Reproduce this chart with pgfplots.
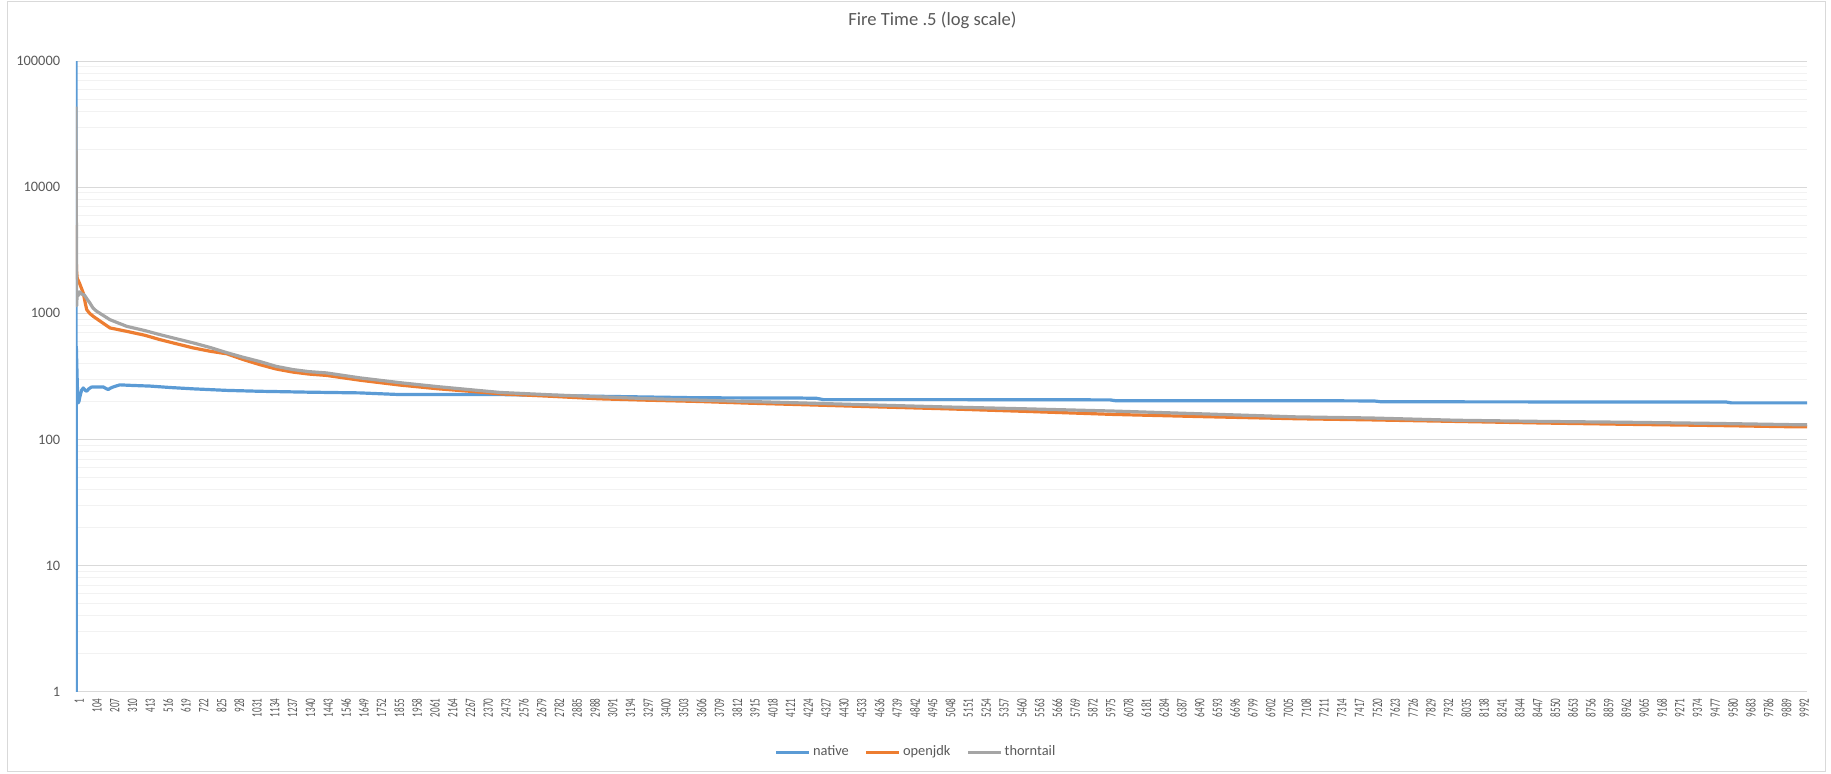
\documentclass[border=0pt]{standalone}
\usepackage{fontspec}
\setmainfont{Carlito}
\usepackage{graphicx}
\usepackage{pgfplots}
\pgfplotsset{compat=1.18}
\definecolor{cnative}{HTML}{5B9BD5}
\definecolor{copen}{HTML}{ED7D31}
\definecolor{cthorn}{HTML}{A5A5A5}
\definecolor{ctext}{HTML}{595959}
\definecolor{cmajor}{HTML}{D9D9D9}
\definecolor{cminor}{HTML}{F2F2F2}
\begin{document}
\begin{tikzpicture}
\path[use as bounding box] (-38pt,-40.65pt) rectangle (877.5pt,345.85pt);
\draw[cmajor, line width=0.5pt] (-34pt,-40pt) rectangle (874.5pt,344.85pt);
\begin{axis}[
  scale only axis,
  width=865.5pt, height=315.3pt,
  ymode=log,
  xmin=1, xmax=10027,
  ymin=1, ymax=100000,
  scaled x ticks=false,
  /pgf/number format/assume math mode=true,
  axis x line*=bottom, axis y line*=left,
  x axis line style={cmajor, line width=0.5pt, -},
  y axis line style={draw=none},
  major tick length=0pt, minor tick length=0pt,
  tick style={draw=none},
  ymajorgrids=true, yminorgrids=true,
  major grid style={cmajor, line width=0.5pt},
  minor grid style={cminor, line width=0.5pt},
  ytick={1,10,100,1000,10000,100000},
  yticklabels={1,10,100,1000,10000,100000},
  yticklabel style={font=\fontsize{7.2}{8}\selectfont, text=ctext, anchor=east, xshift=-4.4pt},
  xtick={1,104,...,9992},
  xticklabel={\scalebox{0.63}[1]{\pgfmathprintnumber[fixed,precision=0,1000 sep={}]{\tick}}},
  xticklabel style={font=\fontsize{7.2}{8}\selectfont, text=ctext, rotate=90, anchor=east, yshift=-1.6pt},
  title={Fire Time .5 (log scale)},
  title style={at={(0.4948,1.045)}, anchor=center, font=\fontsize{9.3}{11}\selectfont, text=ctext},
  legend style={at={(0.4853,-0.0961)}, anchor=center, legend columns=3, draw=none, fill=none,
    font=\fontsize{7.2}{8}\selectfont, text=ctext,
    /tikz/every even column/.append style={column sep=7pt},
    nodes={inner xsep=1pt}},
  legend image code/.code={\draw[#1, line width=1.6pt] (0pt,0pt) -- (16.5pt,0pt);},
  every axis plot/.append style={line width=1.6pt, line join=round, mark=none},
]
\addplot[cnative] coordinates {
(1,200000) (2,0.5) (3,548) (7,330) (11,210) (14,195) (18,200) (24,220) (33,245) (43,256) (55,245) (63,241) (75,252) (90,260) (101,261) (159,261) (178,252) (188,249) (200,255) (217,261) (255,271) (330,268) (430,265) (550,258) (680,252) (874,245) (1066,241) (1356,237) (1645,234) (1877,227) (2456,227) (3035,220) (3614,214) (4193,213) (4290,212) (4330,207) (5042,207) (5990,206) (6020,203) (7071,203) (7520,202) (7560,199) (9560,198) (9590,195) (10027,195)
};
\addlegendentry{native}
\addplot[copen] coordinates {
(1,5000) (2,3000) (4,2200) (8,1900) (20,1750) (35,1550) (43,1450) (55,1200) (63,1070) (80,1000) (101,946) (150,850) (198,766) (295,720) (400,670) (487,619) (580,575) (680,532) (780,500) (874,478) (970,430) (1066,392) (1160,362) (1259,342) (1350,330) (1452,322) (1645,295) (1877,270) (2100,252) (2300,240) (2456,230) (2750,220) (3035,210) (3300,205) (3614,200) (3900,194) (4193,189) (4600,182) (5042,175) (5500,167) (6006,158) (6500,152) (7071,146) (7500,143) (7995,139) (8500,135) (8960,132) (9500,129) (9950,126) (10027,126)
};
\addlegendentry{openjdk}
\addplot[cthorn] coordinates {
(1,43500) (5,1150) (8,1500) (14,1380) (22,1480) (35,1420) (49,1400) (65,1300) (81,1210) (100,1100) (120,1040) (198,890) (295,789) (400,730) (487,678) (580,630) (680,583) (780,535) (874,488) (970,448) (1066,415) (1160,380) (1259,358) (1350,345) (1452,337) (1645,308) (1877,282) (2100,262) (2300,247) (2456,236) (2750,226) (3035,218) (3300,211) (3614,205) (3900,200) (4193,195) (4600,188) (5042,181) (5500,175) (6006,168) (6500,160) (7071,151) (7500,148) (7995,142) (8500,139) (8960,137) (9500,134) (9950,131) (10027,131)
};
\addlegendentry{thorntail}
\end{axis}
\end{tikzpicture}
\end{document}
